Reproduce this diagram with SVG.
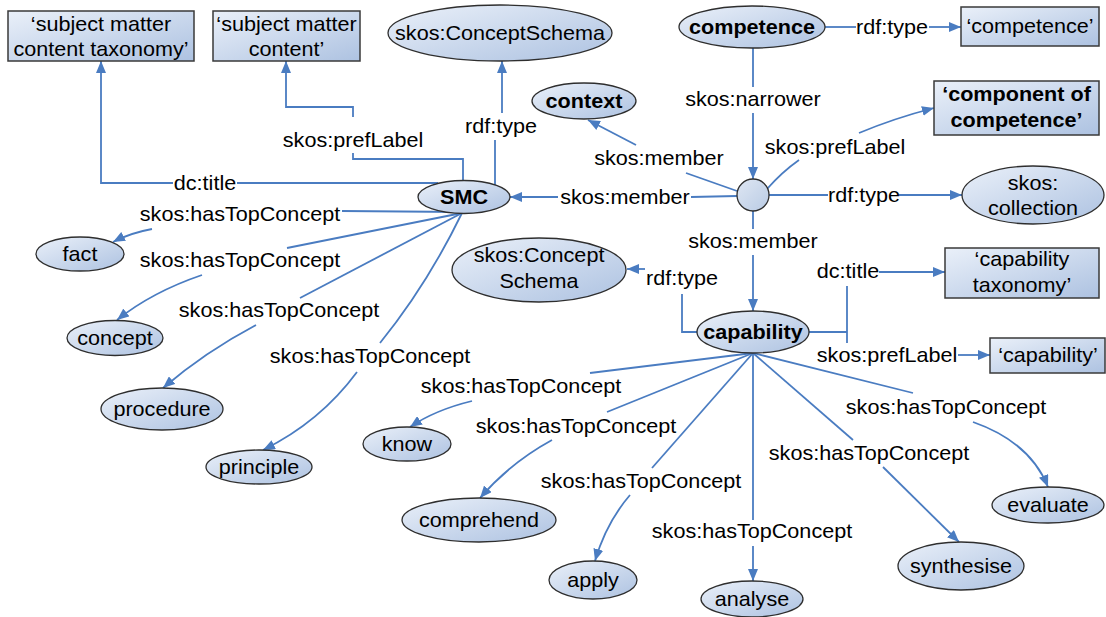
<svg xmlns="http://www.w3.org/2000/svg" width="1106" height="617" viewBox="0 0 1106 617">
  <defs>
    <linearGradient id="fillNode" x1="0" y1="0" x2="1" y2="1">
      <stop offset="0" stop-color="#eaf0f9"/>
      <stop offset="1" stop-color="#adc2e1"/>
    </linearGradient>
    <linearGradient id="fillDot" x1="0" y1="0" x2="1" y2="1">
      <stop offset="0" stop-color="#dfe7f3"/>
      <stop offset="1" stop-color="#b9cbe4"/>
    </linearGradient>
    <marker id="arrow" markerUnits="userSpaceOnUse" markerWidth="12" markerHeight="10" viewBox="0 0 12 10" refX="12" refY="5" orient="auto">
      <path d="M0,0 L12,5 L0,10 z" fill="#4a7cc1"/>
    </marker>
    <style>
      .node { fill: url(#fillNode); stroke: #2e2e2e; stroke-width: 1.3; }
      .box { fill: url(#fillNode); stroke: #3a3a3a; stroke-width: 1.5; }
      .dot { fill: url(#fillDot); stroke: #2e2e2e; stroke-width: 1.3; }
      .edge { fill: none; stroke: #4a7cc1; stroke-width: 1.8; }
      .t { font-family: "Liberation Sans", Arial, sans-serif; font-size: 20px; fill: #000; text-anchor: middle; }
      .b { font-weight: bold; }
    </style>
  </defs>

  <rect width="1106" height="617" fill="#fff"/>

  <!-- connectors and their property labels -->
  <g id="connectors">
    <!-- SMC dc:title -->
    <path class="edge" d="M438,183 L237,183"/>
    <path class="edge" d="M173,183 L101,183 L101,61" marker-end="url(#arrow)"/>
    <text class="t" transform="matrix(1.08,0,0,1,205,190)">dc:title</text>
    <!-- SMC skos:prefLabel -->
    <path class="edge" d="M463,181 L463,159 L353,159 L353,153"/>
    <path class="edge" d="M353,117 L353,107 L286,107 L286,61" marker-end="url(#arrow)"/>
    <text class="t" transform="matrix(1.08,0,0,1,353,147)">skos:prefLabel</text>
    <!-- SMC rdf:type -->
    <path class="edge" d="M495,185 L495,140"/>
    <path class="edge" d="M502,113 L502,61" marker-end="url(#arrow)"/>
    <text class="t" transform="matrix(1.08,0,0,1,501,133)">rdf:type</text>

    <!-- SMC skos:hasTopConcept -->
    <path class="edge" d="M462,212 L342,211"/>
    <path class="edge" d="M152,229 Q130,233 113,242" marker-end="url(#arrow)"/>
    <text class="t" transform="matrix(1.08,0,0,1,240,221)">skos:hasTopConcept</text>
    <path class="edge" d="M462,213 L287,248"/>
    <path class="edge" d="M202,275 Q152,292 117,320" marker-end="url(#arrow)"/>
    <text class="t" transform="matrix(1.08,0,0,1,240,267)">skos:hasTopConcept</text>
    <path class="edge" d="M462,213 L300,298"/>
    <path class="edge" d="M256,325 Q205,352 163,388" marker-end="url(#arrow)"/>
    <text class="t" transform="matrix(1.08,0,0,1,279,317)">skos:hasTopConcept</text>
    <path class="edge" d="M462,213 Q427,285 380,343"/>
    <path class="edge" d="M357,372 Q320,422 263,450" marker-end="url(#arrow)"/>
    <text class="t" transform="matrix(1.08,0,0,1,370,363)">skos:hasTopConcept</text>

    <!-- competence rdf:type -->
    <path class="edge" d="M825,27 L856,27"/>
    <path class="edge" d="M929,27 L961,27" marker-end="url(#arrow)"/>
    <text class="t" transform="matrix(1.08,0,0,1,892,34)">rdf:type</text>
    <!-- competence skos:narrower -->
    <path class="edge" d="M753,48 L753,87"/>
    <path class="edge" d="M753,113 L753,179" marker-end="url(#arrow)"/>
    <text class="t" transform="matrix(1.08,0,0,1,753,106)">skos:narrower</text>

    <!-- collection node links -->
    <path class="edge" d="M767,189 Q782,172 799,160"/>
    <path class="edge" d="M859,133 Q895,118 934,108" marker-end="url(#arrow)"/>
    <text class="t" transform="matrix(1.08,0,0,1,835,154)">skos:prefLabel</text>
    <path class="edge" d="M769,195 L828,195"/>
    <path class="edge" d="M899,195 L962,195" marker-end="url(#arrow)"/>
    <text class="t" transform="matrix(1.08,0,0,1,864,202)">rdf:type</text>
    <path class="edge" d="M737,191 L686,173"/>
    <path class="edge" d="M636,145 L588,120" marker-end="url(#arrow)"/>
    <text class="t" transform="matrix(1.08,0,0,1,659,165)">skos:member</text>
    <path class="edge" d="M737,196 L691,197"/>
    <path class="edge" d="M558,197 L510,197" marker-end="url(#arrow)"/>
    <text class="t" transform="matrix(1.08,0,0,1,625,204)">skos:member</text>
    <path class="edge" d="M753,211 L753,229"/>
    <path class="edge" d="M753,255 L753,311" marker-end="url(#arrow)"/>
    <text class="t" transform="matrix(1.08,0,0,1,753,248)">skos:member</text>

    <!-- capability rdf:type -->
    <path class="edge" d="M697,332 L682,332 L682,294"/>
    <path class="edge" d="M645,269 L627,269" marker-end="url(#arrow)"/>
    <text class="t" transform="matrix(1.08,0,0,1,682,285)">rdf:type</text>
    <!-- capability dc:title / skos:prefLabel -->
    <path class="edge" d="M809,332 L847,332"/>
    <path class="edge" d="M847,286 L847,343"/>
    <path class="edge" d="M879,272 L945,272" marker-end="url(#arrow)"/>
    <text class="t" transform="matrix(1.08,0,0,1,848,278)">dc:title</text>
    <path class="edge" d="M958,355 L990,355" marker-end="url(#arrow)"/>
    <text class="t" transform="matrix(1.08,0,0,1,887,362)">skos:prefLabel</text>

    <!-- capability skos:hasTopConcept -->
    <path class="edge" d="M753,353 L590,373"/>
    <path class="edge" d="M472,401 Q435,410 410,427" marker-end="url(#arrow)"/>
    <text class="t" transform="matrix(1.08,0,0,1,521,393)">skos:hasTopConcept</text>
    <path class="edge" d="M753,353 L607,412"/>
    <path class="edge" d="M552,440 Q510,463 480,498" marker-end="url(#arrow)"/>
    <text class="t" transform="matrix(1.08,0,0,1,576,433)">skos:hasTopConcept</text>
    <path class="edge" d="M753,353 L652,468"/>
    <path class="edge" d="M630,495 Q606,523 595,561" marker-end="url(#arrow)"/>
    <text class="t" transform="matrix(1.08,0,0,1,641,488)">skos:hasTopConcept</text>
    <path class="edge" d="M753,353 L753,520"/>
    <path class="edge" d="M753,546 L753,581" marker-end="url(#arrow)"/>
    <text class="t" transform="matrix(1.08,0,0,1,752,538)">skos:hasTopConcept</text>
    <path class="edge" d="M753,353 L853,440"/>
    <path class="edge" d="M883,467 L959,542" marker-end="url(#arrow)"/>
    <text class="t" transform="matrix(1.08,0,0,1,869,460)">skos:hasTopConcept</text>
    <path class="edge" d="M753,353 L913,393"/>
    <path class="edge" d="M973,422 Q1030,442 1048,487" marker-end="url(#arrow)"/>
    <text class="t" transform="matrix(1.08,0,0,1,946,414)">skos:hasTopConcept</text>
  </g>

  <!-- literal boxes -->
  <g id="n-smc-title">
    <rect class="box" x="8" y="11" width="186" height="50"/>
    <text class="t" transform="matrix(1.08,0,0,1,101,31)">‘subject matter</text>
    <text class="t" transform="matrix(1.08,0,0,1,101,56)">content taxonomy’</text>
  </g>
  <g id="n-smc-label">
    <rect class="box" x="213" y="11" width="147" height="50"/>
    <text class="t" transform="matrix(1.08,0,0,1,286.5,31)">‘subject matter</text>
    <text class="t" transform="matrix(1.08,0,0,1,286.5,56)">content’</text>
  </g>
  <g id="n-competence-label">
    <rect class="box" x="961" y="7" width="138" height="39"/>
    <text class="t" transform="matrix(1.08,0,0,1,1030,33)">‘competence’</text>
  </g>
  <g id="n-component-label">
    <rect class="box" x="934" y="81" width="165" height="54"/>
    <text class="t b" transform="matrix(1.08,0,0,1,1016.5,101)">‘component of</text>
    <text class="t b" transform="matrix(1.08,0,0,1,1016.5,127)">competence’</text>
  </g>
  <g id="n-capability-title">
    <rect class="box" x="945" y="248" width="154" height="50"/>
    <text class="t" transform="matrix(1.08,0,0,1,1022,266)">‘capability</text>
    <text class="t" transform="matrix(1.08,0,0,1,1022,292)">taxonomy’</text>
  </g>
  <g id="n-capability-label">
    <rect class="box" x="990" y="338" width="115" height="35"/>
    <text class="t" transform="matrix(1.08,0,0,1,1048,362)">‘capability’</text>
  </g>

  <!-- resource nodes -->
  <g id="n-conceptschema-top">
    <ellipse class="node" cx="500" cy="33" rx="112" ry="28"/>
    <text class="t" transform="matrix(1.08,0,0,1,500,40)">skos:ConceptSchema</text>
  </g>
  <g id="n-competence">
    <ellipse class="node" cx="752" cy="27" rx="73" ry="21"/>
    <text class="t b" transform="matrix(1.08,0,0,1,752,34)">competence</text>
  </g>
  <g id="n-context">
    <ellipse class="node" cx="584" cy="101" rx="52" ry="18"/>
    <text class="t b" transform="matrix(1.08,0,0,1,584,108)">context</text>
  </g>
  <g id="n-smc">
    <ellipse class="node" cx="464" cy="197" rx="46" ry="16.5"/>
    <text class="t b" transform="matrix(1.08,0,0,1,464,204)">SMC</text>
  </g>
  <g id="n-component">
    <circle class="dot" cx="753" cy="195" r="16"/>
  </g>
  <g id="n-collection">
    <ellipse class="node" cx="1033" cy="195" rx="71" ry="29"/>
    <text class="t" transform="matrix(1.08,0,0,1,1033,190)">skos:</text>
    <text class="t" transform="matrix(1.08,0,0,1,1033,215)">collection</text>
  </g>
  <g id="n-conceptschema-cap">
    <ellipse class="node" cx="539" cy="270" rx="87" ry="32"/>
    <text class="t" transform="matrix(1.08,0,0,1,539,262)">skos:Concept</text>
    <text class="t" transform="matrix(1.08,0,0,1,539,288)">Schema</text>
  </g>
  <g id="n-capability">
    <ellipse class="node" cx="753" cy="332" rx="56" ry="21"/>
    <text class="t b" transform="matrix(1.08,0,0,1,753,339)">capability</text>
  </g>

  <!-- subject matter content concepts -->
  <g id="n-fact">
    <ellipse class="node" cx="80" cy="254" rx="44" ry="17"/>
    <text class="t" transform="matrix(1.08,0,0,1,80,261)">fact</text>
  </g>
  <g id="n-concept">
    <ellipse class="node" cx="115" cy="338" rx="48" ry="17.5"/>
    <text class="t" transform="matrix(1.08,0,0,1,115,345)">concept</text>
  </g>
  <g id="n-procedure">
    <ellipse class="node" cx="162" cy="409" rx="61" ry="21"/>
    <text class="t" transform="matrix(1.08,0,0,1,162,416)">procedure</text>
  </g>
  <g id="n-principle">
    <ellipse class="node" cx="259" cy="467" rx="53" ry="17"/>
    <text class="t" transform="matrix(1.08,0,0,1,259,474)">principle</text>
  </g>

  <!-- capability concepts -->
  <g id="n-know">
    <ellipse class="node" cx="407" cy="444" rx="44" ry="17"/>
    <text class="t" transform="matrix(1.08,0,0,1,407,451)">know</text>
  </g>
  <g id="n-comprehend">
    <ellipse class="node" cx="479" cy="520" rx="77" ry="22"/>
    <text class="t" transform="matrix(1.08,0,0,1,479,527)">comprehend</text>
  </g>
  <g id="n-apply">
    <ellipse class="node" cx="593" cy="580" rx="44" ry="19"/>
    <text class="t" transform="matrix(1.08,0,0,1,593,587)">apply</text>
  </g>
  <g id="n-analyse">
    <ellipse class="node" cx="752" cy="599" rx="51" ry="18"/>
    <text class="t" transform="matrix(1.08,0,0,1,752,606)">analyse</text>
  </g>
  <g id="n-synthesise">
    <ellipse class="node" cx="961" cy="566" rx="63" ry="24"/>
    <text class="t" transform="matrix(1.08,0,0,1,961,573)">synthesise</text>
  </g>
  <g id="n-evaluate">
    <ellipse class="node" cx="1048" cy="505" rx="56" ry="18"/>
    <text class="t" transform="matrix(1.08,0,0,1,1048,512)">evaluate</text>
  </g>
</svg>
